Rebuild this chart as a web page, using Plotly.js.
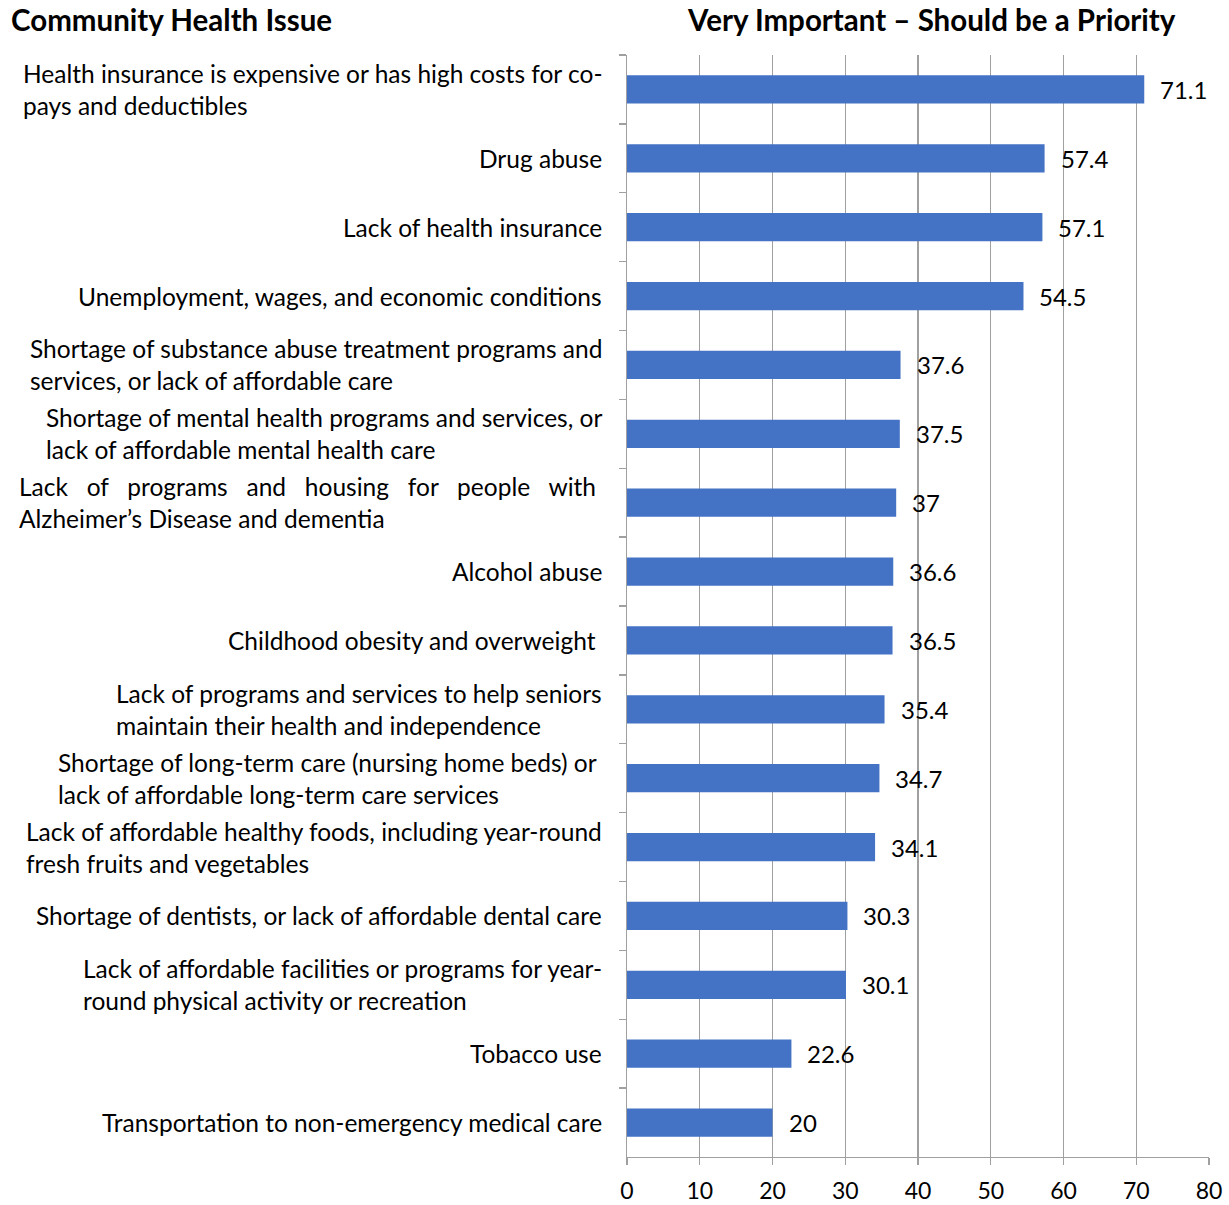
<!DOCTYPE html>
<html>
<head>
<meta charset="utf-8">
<script src="https://cdn.plot.ly/plotly-3.0.1.min.js"></script>
<style>html,body{margin:0;padding:0;background:#fff;}#chart{width:1229px;height:1205px;}</style>
</head>
<body>
<div id="chart"></div>
<script>
const categories = [
  "Health insurance is expensive or has high costs for co-<br>pays and deductibles",
  "Drug abuse",
  "Lack of health insurance",
  "Unemployment, wages, and economic conditions",
  "Shortage of substance abuse treatment programs and<br>services, or lack of affordable care",
  "Shortage of mental health programs and services, or<br>lack of affordable mental health care",
  "Lack\u00A0\u00A0 of\u00A0\u00A0 programs\u00A0\u00A0 and\u00A0\u00A0 housing\u00A0\u00A0 for\u00A0\u00A0 people\u00A0\u00A0 with\u00A0<br>Alzheimer\u2019s Disease and dementia",
  "Alcohol abuse",
  "Childhood obesity and overweight\u00A0",
  "Lack of programs and services to help seniors<br>maintain their health and independence",
  "Shortage of long-term care (nursing home beds) or\u00A0<br>lack of affordable long-term care services",
  "Lack of affordable healthy foods, including year-round<br>fresh fruits and vegetables",
  "Shortage of dentists, or lack of affordable dental care",
  "Lack of affordable facilities or programs for year-<br>round physical activity or recreation",
  "Tobacco use",
  "Transportation to non-emergency medical care"
];
const values = [71.1, 57.4, 57.1, 54.5, 37.6, 37.5, 37, 36.6, 36.5, 35.4, 34.7, 34.1, 30.3, 30.1, 22.6, 20];
const valueLabels = ["71.1","57.4","57.1","54.5","37.6","37.5","37","36.6","36.5","35.4","34.7","34.1","30.3","30.1","22.6","20"];
const xTicks = [0, 10, 20, 30, 40, 50, 60, 70, 80];
const leftTitle = "Community Health Issue";
const rightTitle = "Very Important \u2013 Should be a Priority";

const FONT = "Lato, 'Open Sans', sans-serif";
const ids = categories.map((c, i) => "c" + i);

const trace = {
  type: "bar",
  orientation: "h",
  x: values,
  y: ids,
  marker: {color: "#4472C4"},
  hoverinfo: "skip"
};

const annotations = [];
categories.forEach((c, i) => {
  annotations.push({
    xref: "paper", yref: "y", x: -0.039, y: ids[i],
    xanchor: "right", yanchor: "middle", align: "left",
    text: c, showarrow: false,
    font: {family: FONT, size: 24.5, color: "#000"}
  });
  annotations.push({
    xref: "x", yref: "y", x: values[i], y: ids[i],
    xanchor: "left", yanchor: "middle", xshift: 14,
    text: valueLabels[i], showarrow: false,
    font: {family: FONT, size: 24, color: "#000"}
  });
});
annotations.push({
  xref: "paper", yref: "paper", x: -1.062, y: 1.032, xanchor: "left", yanchor: "middle",
  text: "<b>" + leftTitle + "</b>", showarrow: false,
  font: {family: FONT, size: 29.5, color: "#000"}
});
annotations.push({
  xref: "paper", yref: "paper", x: 0.523, y: 1.032, xanchor: "center", yanchor: "middle",
  text: "<b>" + rightTitle + "</b>", showarrow: false,
  font: {family: FONT, size: 29.5, color: "#000"}
});

const layout = {
  width: 1229, height: 1205,
  margin: {l: 627, r: 20, t: 55, b: 48},
  paper_bgcolor: "#fff", plot_bgcolor: "#fff",
  showlegend: false,
  bargap: 0.59,
  xaxis: {
    range: [0, 80], tickvals: xTicks, ticktext: xTicks.map(String),
    showgrid: true, gridcolor: "#A0A0A0", gridwidth: 1.3,
    zeroline: false, showline: true, linecolor: "#A0A0A0", linewidth: 1.3,
    ticks: "outside", ticklen: 7, tickcolor: "#A0A0A0", tickwidth: 1.3,
    ticklabelstandoff: 6,
    tickfont: {family: FONT, size: 23, color: "#000"},
    fixedrange: true
  },
  yaxis: {
    type: "category", categoryorder: "array", categoryarray: ids,
    autorange: "reversed",
    showticklabels: false, showgrid: false, zeroline: false,
    showline: true, linecolor: "#A0A0A0", linewidth: 1.3,
    ticks: "outside", ticklen: 7, tickcolor: "#A0A0A0", tickwidth: 1.3,
    tickson: "boundaries",
    fixedrange: true
  },
  annotations: annotations
};

Plotly.newPlot("chart", [trace], layout, {displayModeBar: false, staticPlot: true});
</script>
</body>
</html>
